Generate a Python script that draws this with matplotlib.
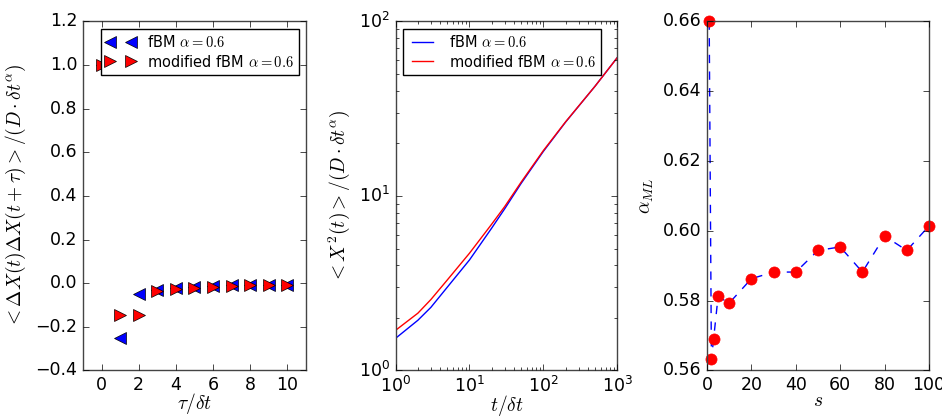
import matplotlib
matplotlib.use("Agg")
import matplotlib.pyplot as plt

plt.style.use('classic')
plt.rcParams['font.size'] = 12

# Panel 1: normalised autocorrelation of increments
tau = [0, 1, 2, 3, 4, 5, 6, 7, 8, 9, 10]
acf_fbm = [1.0, -0.25, -0.05, -0.03, -0.02, -0.015, -0.012, -0.01, -0.008, -0.007, -0.006]
acf_mod = [1.0, -0.145, -0.145, -0.035, -0.025, -0.02, -0.015, -0.012, -0.01, -0.008, -0.007]

# Panel 2: normalised MSD
t = [1, 2, 3, 5, 10, 20, 30, 50, 100, 200, 500, 1000]
msd_fbm = [1.53, 1.94, 2.3, 3.0, 4.3, 6.55, 8.45, 11.8, 18.0, 26.5, 42.5, 62]
msd_mod = [1.70, 2.13, 2.55, 3.3, 4.7, 6.9, 8.7, 12.0, 18.2, 26.6, 42.5, 62]

# Panel 3: ML estimate of alpha vs s
s = [1, 2, 3, 5, 10, 20, 30, 40, 50, 60, 70, 80, 90, 100]
alpha_ml = [0.66, 0.5632, 0.5691, 0.5812, 0.5793, 0.5863, 0.5882, 0.5882,
            0.5944, 0.5954, 0.5882, 0.5985, 0.5944, 0.6014]

fig = plt.figure(figsize=(9.42, 4.16), dpi=100, facecolor='white')
ax1 = fig.add_axes([0.0881, 0.1094, 0.2367, 0.839])
ax2 = fig.add_axes([0.4200, 0.1094, 0.2352, 0.839])
ax3 = fig.add_axes([0.7505, 0.1094, 0.2357, 0.839])

leg_kw = dict(fontsize=10.5, borderpad=0.35, labelspacing=0.25,
              handletextpad=0.8, handlelength=2.0)

# left panel
ax1.plot(tau, acf_fbm, '<', color='b', markersize=8, label=r'fBM $\alpha=0.6$')
ax1.plot(tau, acf_mod, '>', color='r', markersize=8, label=r'modified fBM $\alpha=0.6$')
ax1.set_xlim(-1, 11)
ax1.set_ylim(-0.4, 1.2)
ax1.set_xticks([0, 2, 4, 6, 8, 10])
ax1.set_xlabel(r'$\tau/\delta t$', fontsize=14, labelpad=-2)
ax1.set_ylabel(r'$<\Delta X(t)\Delta X(t+\tau)>/(D\cdot\delta t^\alpha)$', fontsize=14)
ax1.legend(loc='upper right', numpoints=2, **leg_kw)

# middle panel
ax2.loglog(t, msd_fbm, color='b', label=r'fBM $\alpha=0.6$')
ax2.loglog(t, msd_mod, color='r', label=r'modified fBM $\alpha=0.6$')
ax2.set_xlim(1, 1000)
ax2.set_ylim(1, 100)
ax2.set_xlabel(r'$t/\delta t$', fontsize=14, labelpad=-2)
ax2.set_ylabel(r'$<X^2(t)>/(D\cdot\delta t^\alpha)$', fontsize=14)
ax2.legend(loc='upper left', **leg_kw)

# right panel
ax3.plot(s, alpha_ml, '--', color='b', linewidth=1, zorder=1)
ax3.plot(s, alpha_ml, 'o', color='r', markeredgecolor='r', markersize=8,
         zorder=2, clip_on=False)
ax3.set_xlim(0, 100)
ax3.set_ylim(0.56, 0.66)
ax3.set_yticks([0.56, 0.58, 0.60, 0.62, 0.64, 0.66])
ax3.set_yticklabels(['0.56', '0.58', '0.60', '0.62', '0.64', '0.66'])
ax3.set_xlabel(r'$s$', fontsize=14, labelpad=-2)
ax3.set_ylabel(r'$\alpha_{ML}$', fontsize=14)

for ax in (ax1, ax2, ax3):
    ax.tick_params(labelsize=12.5)
    for sp in ax.spines.values():
        sp.set_color('#444444')

fig.savefig('out.png', dpi=100, facecolor='white')
